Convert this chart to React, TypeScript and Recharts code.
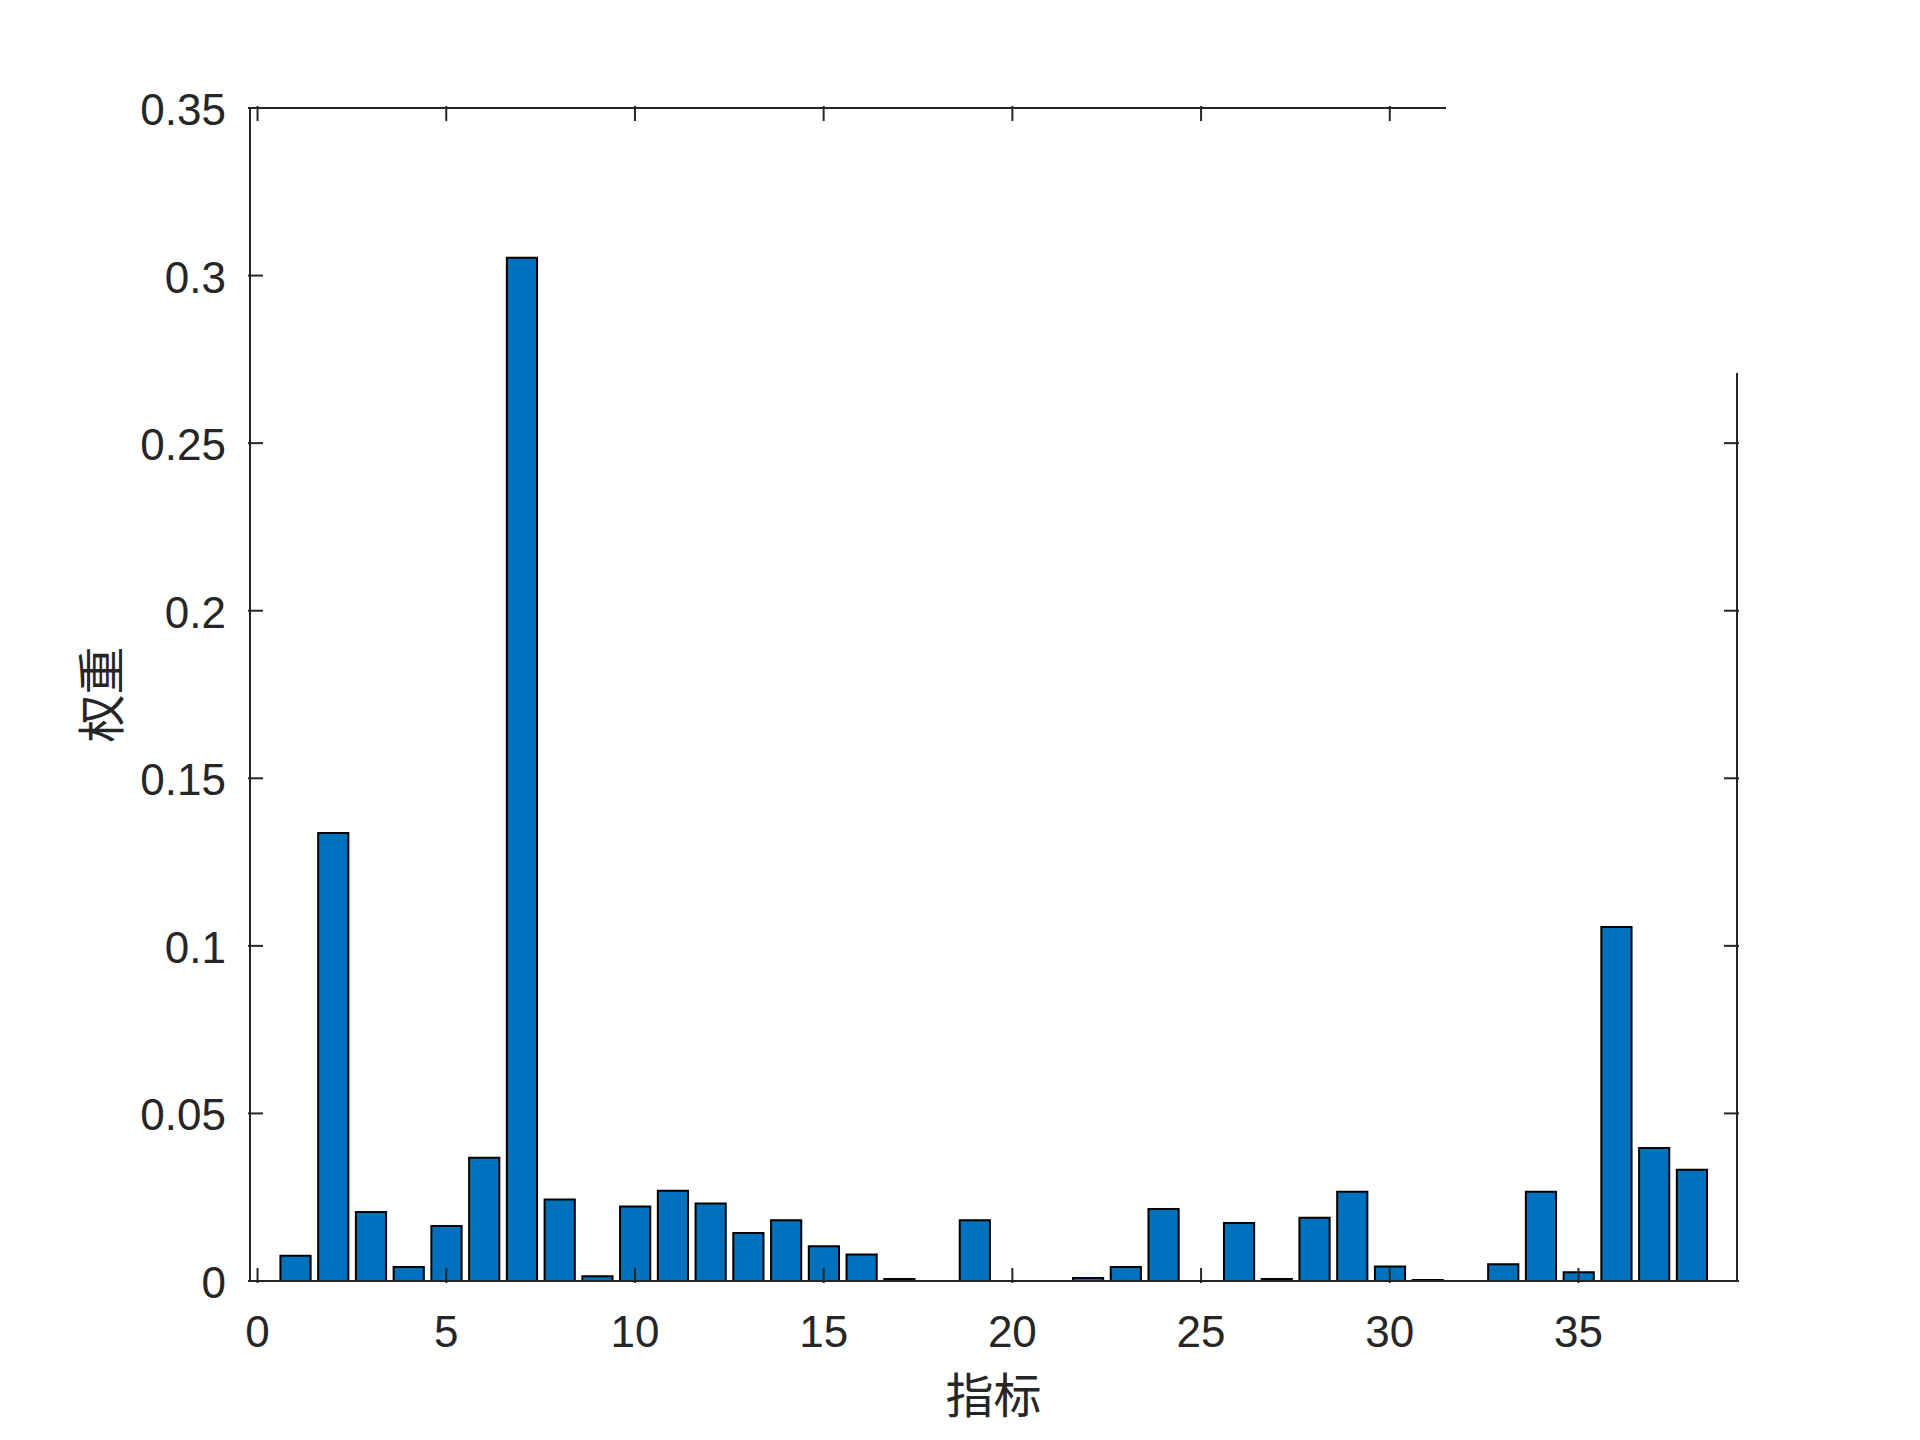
import { BarChart, Bar, XAxis, YAxis } from "recharts"

// indicator number and its weight
const indices = [
  1, 2, 3, 4, 5, 6, 7, 8, 9, 10, 11, 12, 13, 14, 15, 16, 17, 18, 19, 20,
  21, 22, 23, 24, 25, 26, 27, 28, 29, 30, 31, 32, 33, 34, 35, 36, 37, 38,
]
const weights = [
  0.0075, 0.1337, 0.0206, 0.0042, 0.0164, 0.0368, 0.3053, 0.0243, 0.0014, 0.0222,
  0.0269, 0.0231, 0.0143, 0.0181, 0.0104, 0.0079, 0.0006, 0, 0.0181, 0,
  0, 0.0009, 0.0042, 0.0215, 0, 0.0173, 0.0006, 0.0189, 0.0266, 0.0043,
  0.0003, 0, 0.005, 0.0266, 0.0026, 0.1056, 0.0397, 0.0332,
]
const xTicks = [0, 5, 10, 15, 20, 25, 30, 35]
const yTicks = [0, 0.05, 0.1, 0.15, 0.2, 0.25, 0.3, 0.35]
const xDomain = [-0.2, 39.2]
const yDomain = [0, 0.35]
const xTitle = "指标"
const yTitle = "权重"

const rows = indices.map((idx, i) => ({ idx, weight: weights[i] }))

const W = 1920
const H = 1440
const LEFT = 250
const RIGHT = 183
const TOP = 108
const BOTTOM = 159
const plotW = W - LEFT - RIGHT
const barSize = (0.8 * plotW) / (xDomain[1] - xDomain[0])

const INK = "#262626"
const TICK = 15
const NUM_FONT = "'Liberation Sans', Arial, sans-serif"
const CJK_FONT = "'Noto Sans CJK SC', sans-serif"

const fmt = (v: number) => String(v)

function BottomTick({ x, y, payload }: any) {
  return (
    <g>
      <line x1={x} y1={y} x2={x} y2={y - TICK} stroke={INK} strokeWidth={2} />
      <text x={x} y={y + 64} textAnchor="middle" fontSize={44} fill={INK} fontFamily={NUM_FONT}>
        {fmt(payload.value)}
      </text>
    </g>
  )
}

function TopTick({ x, y }: any) {
  return <line x1={x} y1={y} x2={x} y2={y + TICK} stroke={INK} strokeWidth={2} />
}

function LeftTick({ x, y, payload }: any) {
  return (
    <g>
      <line x1={x} y1={y} x2={x + TICK} y2={y} stroke={INK} strokeWidth={2} />
      <text x={x - 22} y={y + 17} textAnchor="end" fontSize={44} fill={INK} fontFamily={NUM_FONT}>
        {fmt(payload.value)}
      </text>
    </g>
  )
}

function RightTick({ x, y }: any) {
  return <line x1={x} y1={y} x2={x - TICK} y2={y} stroke={INK} strokeWidth={2} />
}

const axisLine = { stroke: INK, strokeWidth: 2 }

export default function App() {
  return (
    <div style={{ position: "absolute", left: 0, top: 0, width: W, height: H, background: "#fff" }}>
      <BarChart width={W} height={H} data={rows} margin={{ top: 0, right: 0, bottom: 0, left: 0 }}>
        <Bar
          dataKey="weight"
          fill="#0072BD"
          stroke="#000"
          strokeWidth={2}
          barSize={barSize}
          isAnimationActive={false}
        />
        <XAxis
          dataKey="idx"
          type="number"
          domain={xDomain}
          ticks={xTicks}
          allowDataOverflow
          interval={0}
          height={BOTTOM}
          tickSize={0}
          tickLine={false}
          axisLine={axisLine}
          tick={BottomTick}
          label={{
            content: ({ viewBox }: any) => (
              <text
                x={viewBox.x + viewBox.width / 2}
                y={viewBox.y + 132}
                textAnchor="middle"
                fontSize={48}
                fill={INK}
                fontFamily={CJK_FONT}
              >
                {xTitle}
              </text>
            ),
          }}
        />
        <XAxis
          xAxisId="top"
          orientation="top"
          dataKey="idx"
          type="number"
          domain={xDomain}
          ticks={xTicks}
          allowDataOverflow
          interval={0}
          height={TOP}
          tickSize={0}
          tickLine={false}
          axisLine={axisLine}
          tick={TopTick}
        />
        <YAxis
          type="number"
          domain={yDomain}
          ticks={yTicks}
          allowDataOverflow
          interval={0}
          width={LEFT}
          tickSize={0}
          tickLine={false}
          axisLine={axisLine}
          tick={LeftTick}
          label={{
            content: ({ viewBox }: any) => (
              <text
                transform={`translate(${viewBox.x + 119}, ${viewBox.y + viewBox.height / 2}) rotate(-90)`}
                textAnchor="middle"
                fontSize={48}
                fill={INK}
                fontFamily={CJK_FONT}
              >
                {yTitle}
              </text>
            ),
          }}
        />
        <YAxis
          yAxisId="right"
          orientation="right"
          type="number"
          domain={yDomain}
          ticks={yTicks}
          allowDataOverflow
          interval={0}
          width={RIGHT}
          tickSize={0}
          tickLine={false}
          axisLine={axisLine}
          tick={RightTick}
        />
      </BarChart>
      {/* blank patch over the top-right corner of the frame */}
      <div
        style={{
          position: "absolute",
          left: 1446,
          top: 96,
          width: 320,
          height: 277,
          background: "#fff",
        }}
      />
    </div>
  )
}
